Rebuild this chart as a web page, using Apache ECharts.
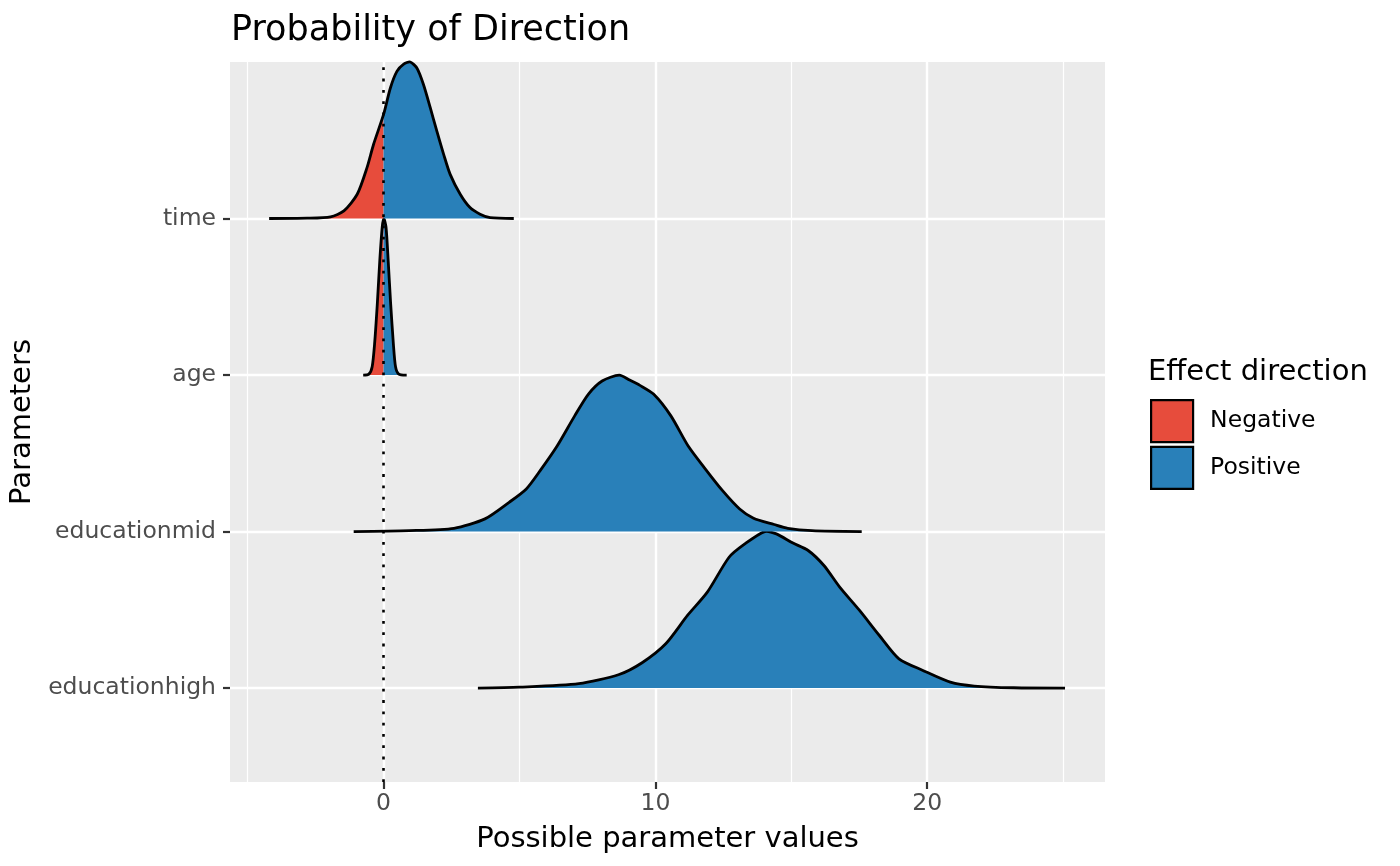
<!DOCTYPE html>
<html>
<head>
<meta charset="utf-8">
<title>Probability of Direction</title>
<script src="https://cdn.jsdelivr.net/npm/echarts@6/dist/echarts.min.js"></script>
<style>
  html, body { margin: 0; padding: 0; background: #fff; }
  #pdChart { width: 1400px; height: 866px; }
</style>
</head>
<body>
<div id="pdChart"></div>
<script>
// parameters, bottom to top (ridge baseline = index + 1)
var params = ['educationhigh', 'educationmid', 'age', 'time'];
var xTicks = [0, 10, 20];
var xMinor = [-5, 5, 15, 25];

// posterior densities, each scaled to max 1
var highX = [3.47, 5.0, 7.18, 8.64, 9.51, 10.38, 11.18, 11.91, 12.71, 13.29, 14.02, 14.45, 15.04, 15.62, 16.20, 16.78, 17.51, 18.24, 18.96, 19.84, 20.85, 21.73, 23.18, 25.07];
var highD = [0, 0.006, 0.028, 0.085, 0.162, 0.283, 0.464, 0.613, 0.836, 0.921, 1.0, 0.985, 0.928, 0.879, 0.783, 0.645, 0.496, 0.336, 0.187, 0.113, 0.038, 0.013, 0.002, 0];

var midX = [-1.10, 0.95, 2.59, 3.73, 4.62, 5.25, 5.76, 6.39, 7.03, 7.53, 8.04, 8.67, 9.05, 9.43, 9.94, 10.57, 11.20, 11.84, 12.47, 13.10, 13.61, 14.37, 14.87, 15.76, 17.59];
var midD = [0, 0.006, 0.021, 0.081, 0.187, 0.272, 0.389, 0.548, 0.739, 0.877, 0.962, 1.0, 0.968, 0.934, 0.877, 0.739, 0.548, 0.399, 0.261, 0.144, 0.085, 0.045, 0.021, 0.006, 0];

var ageX = [-0.75, -0.54, -0.42, -0.33, -0.23, -0.14, -0.05, 0.01, 0.09, 0.17, 0.26, 0.36, 0.44, 0.56, 0.85];
var ageD = [0, 0.006, 0.053, 0.20, 0.456, 0.73, 0.945, 1.0, 0.945, 0.73, 0.456, 0.20, 0.053, 0.006, 0];

var timeX = [-4.21, -2.81, -1.95, -1.46, -0.97, -0.61, -0.37, 0.0, 0.25, 0.49, 0.74, 0.98, 1.23, 1.47, 1.72, 1.96, 2.21, 2.45, 2.82, 3.18, 3.55, 3.92, 4.79];
var timeD = [0, 0.002, 0.011, 0.049, 0.155, 0.325, 0.473, 0.665, 0.834, 0.94, 0.987, 1.0, 0.96, 0.855, 0.707, 0.558, 0.41, 0.282, 0.155, 0.07, 0.028, 0.006, 0];

var ridgeX = [highX, midX, ageX, timeX];
var ridgeD = [highD, midD, ageD, timeD];

var FONT = 'DejaVu Sans';
var chart = echarts.init(document.getElementById('pdChart'));

function ridgePoints(api, i) {
    var pts = [];
    for (var k = 0; k < ridgeX[i].length; k++) {
        pts.push(api.coord([ridgeX[i][k], i + 1 + ridgeD[i][k]]));
    }
    return pts;
}

// fill of one ridge, clipped to the negative or positive side of zero
function fillItem(side, color) {
    return function (p, api) {
        var i = p.dataIndex;
        var pts = ridgePoints(api, i);
        var cs = p.coordSys;
        var zero = api.coord([0, 1])[0];
        var clip = side < 0
            ? { x: cs.x, y: cs.y, width: zero - cs.x, height: cs.height }
            : { x: zero, y: cs.y, width: cs.x + cs.width - zero, height: cs.height };
        return {
            type: 'group',
            clipPath: { type: 'rect', shape: clip },
            children: [{
                type: 'polygon',
                z2: i * 10,
                shape: { points: pts },
                style: { fill: color, stroke: null }
            }]
        };
    };
}

function outlineItem(p, api) {
    var i = p.dataIndex;
    return {
        type: 'polyline',
        z2: i * 10 + 5,
        shape: { points: ridgePoints(api, i), smooth: 0.25 },
        style: { fill: null, stroke: '#000', lineWidth: 2.8, lineJoin: 'round' }
    };
}

// one item per ridge, anchored at the ridge's first point
var ridgeData = params.map(function (name, i) { return [ridgeX[i][0], i + 1]; });

var option = {
    animation: false,
    textStyle: { fontFamily: FONT },
    title: [{
        text: 'Probability of Direction',
        left: 226,
        top: 8,
        textStyle: { fontSize: 35, fontWeight: 'normal', color: '#000', fontFamily: FONT }
    }, {
        text: 'Effect direction',
        left: 1143,
        top: 353,
        textStyle: { fontSize: 29, fontWeight: 'normal', color: '#000', fontFamily: FONT }
    }],
    legend: {
        data: ['Negative', 'Positive'],
        orient: 'vertical',
        left: 1150,
        top: 399,
        padding: 0,
        icon: 'rect',
        itemWidth: 42,
        itemHeight: 42,
        itemGap: 2.5,
        itemStyle: { borderColor: '#000', borderWidth: 2.2 },
        textStyle: { fontSize: 23.5, color: '#000', fontFamily: FONT, padding: [0, 0, 0, 12] },
        selectedMode: false
    },
    grid: {
        left: 230, right: 295, top: 62, bottom: 84,
        show: true, backgroundColor: '#EBEBEB', borderWidth: 0
    },
    xAxis: {
        type: 'value',
        min: -5.65,
        max: 26.54,
        name: 'Possible parameter values',
        nameLocation: 'middle',
        nameGap: 43,
        nameTextStyle: { fontSize: 29, color: '#000', fontFamily: FONT },
        axisLine: { show: false, onZero: false },
        axisTick: { show: true, length: 7, lineStyle: { color: '#333', width: 2.2 }, customValues: xTicks },
        axisLabel: { fontSize: 23.5, color: '#4D4D4D', margin: 10, fontFamily: FONT, customValues: xTicks },
        splitLine: { show: true, lineStyle: { color: '#fff', width: 2.4 } }
    },
    yAxis: {
        type: 'value',
        min: 0.4,
        max: 5.0,
        name: 'Parameters',
        nameLocation: 'middle',
        nameGap: 188,
        nameTextStyle: { fontSize: 29, color: '#000', fontFamily: FONT },
        axisLine: { show: false, onZero: false },
        axisTick: { show: true, length: 7, lineStyle: { color: '#333', width: 2.2 }, customValues: [1, 2, 3, 4] },
        axisLabel: {
            fontSize: 23.5, color: '#4D4D4D', margin: 14, fontFamily: FONT,
            customValues: [1, 2, 3, 4],
            formatter: function (v) { return params[Math.round(v) - 1] || ''; }
        },
        splitLine: { show: true, lineStyle: { color: '#fff', width: 2.4 } }
    },
    series: [{
        name: 'minorGrid',
        type: 'line',
        data: [],
        silent: true,
        markLine: {
            z: 1,
            silent: true,
            symbol: 'none',
            label: { show: false },
            lineStyle: { color: '#fff', width: 1.2, type: 'solid' },
            data: xMinor.map(function (v) { return { xAxis: v }; })
        }
    }, {
        name: 'Negative',
        type: 'custom',
        itemStyle: { color: '#E74C3C' },
        renderItem: fillItem(-1, '#E74C3C'),
        data: ridgeData
    }, {
        name: 'Positive',
        type: 'custom',
        itemStyle: { color: '#2980B9' },
        renderItem: fillItem(1, '#2980B9'),
        data: ridgeData,
        markLine: {
            z: 10,
            silent: true,
            symbol: 'none',
            label: { show: false },
            lineStyle: { color: '#000', width: 2.6, type: [2.8, 8.5] },
            data: [{ xAxis: 0 }]
        }
    }, {
        name: 'outline',
        type: 'custom',
        renderItem: outlineItem,
        data: ridgeData
    }]
};

chart.setOption(option);
</script>
</body>
</html>
